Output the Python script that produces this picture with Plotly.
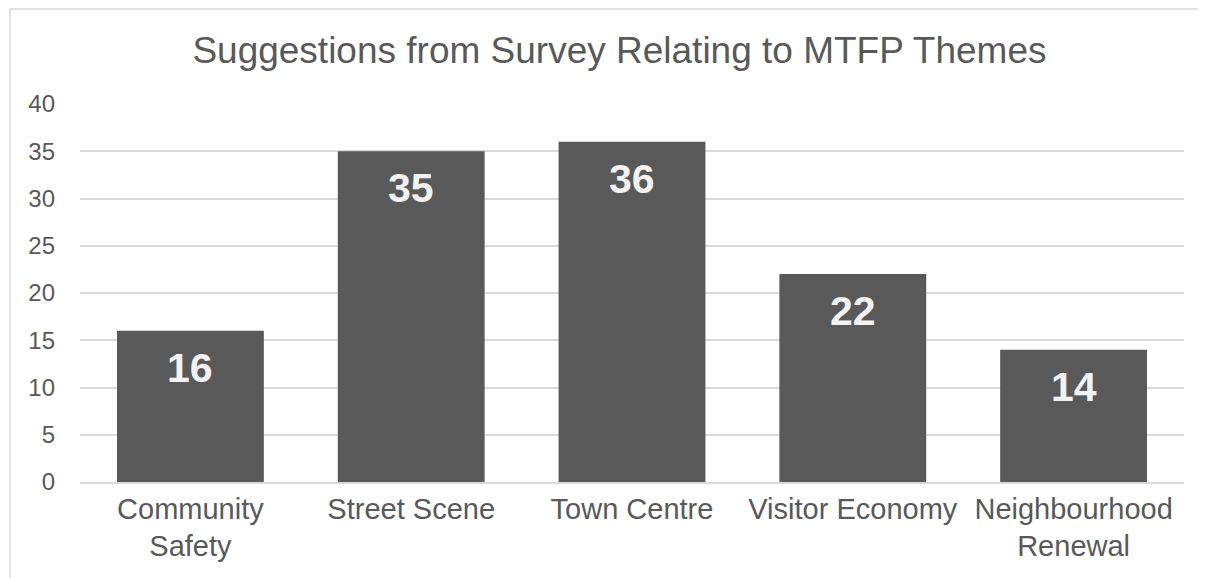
import plotly.graph_objects as go

categories = ["Community<br>Safety", "Street Scene", "Town Centre", "Visitor Economy", "Neighbourhood<br>Renewal"]
values = [16, 35, 36, 22, 14]
y_ticks = [0, 5, 10, 15, 20, 25, 30, 35, 40]
title_text = "Suggestions from Survey Relating to MTFP Themes"

FONT = "Liberation Sans, Arial, sans-serif"
GREY = "#595959"
GRID = "#d9d9d9"

fig = go.Figure()
fig.add_trace(go.Bar(
    x=categories, y=values,
    marker=dict(color=GREY, line=dict(width=0)),
    hoverinfo="x+y",
))

for c, v in zip(categories, values):
    fig.add_annotation(
        x=c, y=v, xref="x", yref="y", text=f"<b>{v}</b>", showarrow=False,
        yanchor="middle", yshift=-37,
        font=dict(family=FONT, size=41, color="#f2f2f2"),
    )

# chart-area border (left and top edges visible)
fig.add_shape(type="line", xref="paper", yref="paper", x0=-0.0634, x1=-0.0634, y0=-0.5, y1=1.2513,
              line=dict(color=GRID, width=1.5))
fig.add_shape(type="line", xref="paper", yref="paper", x0=-0.0634, x1=1.2, y0=1.2513, y1=1.2513,
              line=dict(color=GRID, width=1.5))

fig.update_layout(
    width=1206, height=578,
    margin=dict(l=72, r=30, t=96, b=104, autoexpand=False),
    paper_bgcolor="white", plot_bgcolor="white",
    bargap=0.335,
    showlegend=False,
    title=dict(text=title_text, x=0.507, xanchor="center", y=0.927, yanchor="middle",
               font=dict(family=FONT, size=37, color=GREY)),
    font=dict(family=FONT, color=GREY),
    xaxis=dict(showgrid=False, showline=True, linecolor=GRID, linewidth=1.5,
               tickfont=dict(family=FONT, size=29, color=GREY), ticks=""),
    yaxis=dict(range=[0, 40], tickvals=y_ticks, showgrid=True, gridcolor=GRID, gridwidth=1.5,
               zeroline=False, showline=False, ticks="",
               tickfont=dict(family=FONT, size=24, color=GREY), ticklabelstandoff=24),
)

fig.write_html("out.html")
